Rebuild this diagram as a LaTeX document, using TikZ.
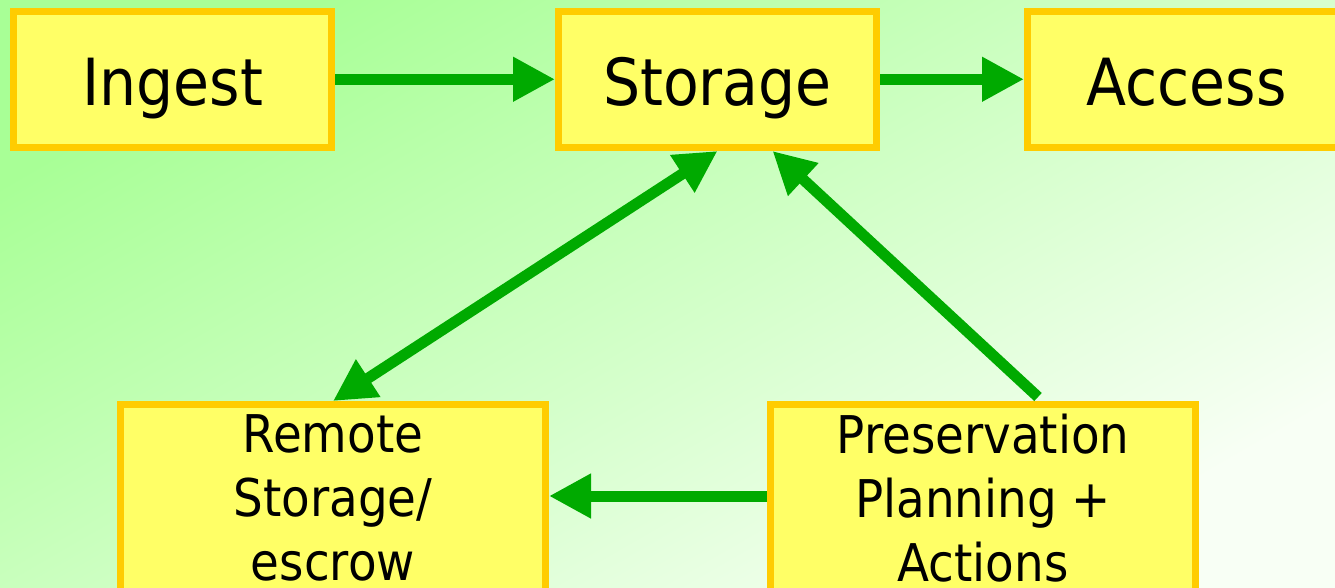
\documentclass[tikz,border=0pt]{standalone}
\usepackage{fontspec}
\setmainfont{DejaVu Sans}[FakeStretch=0.9]
\usetikzlibrary{positioning,arrows.meta}
\definecolor{boxfill}{RGB}{255,255,102}
\definecolor{boxline}{RGB}{255,204,0}
\definecolor{flowgreen}{RGB}{0,170,0}
\definecolor{bgdark}{RGB}{168,255,150}
\definecolor{bglight}{RGB}{248,255,245}
\tikzset{
  oais box/.style={rectangle, draw=boxline, fill=boxfill, line width=7pt, align=center},
  oais top/.style={oais box, minimum width=318pt, minimum height=136.5pt, font=\fontsize{65}{78}\selectfont, text height=52pt, text depth=0pt},
  oais low/.style={oais box, minimum width=425pt, minimum height=187pt, font=\fontsize{52}{64}\selectfont},
  oais flow/.style={draw=flowgreen, line width=11pt, -{Triangle[length=42pt,width=42pt]}}
}

\begin{document}
\begin{tikzpicture}[x=1pt, y=-1pt]
    % Background
    \clip (0,0) rectangle (1335,587);
    \shade [top color=bgdark, bottom color=bglight, shading angle=30] (0,0) rectangle (1335,587);

    % Nodes for the top row
    \node [oais top] (Ingest) at (172.5,79.25) {Ingest};
    \node [oais top, right=220pt of Ingest] (Storage) {Storage};
    \node [oais top, right=144pt of Storage] (Access) {Access};

    % Nodes for the bottom row
    \node [oais low] (Remote) at (333,498) {Remote\\Storage/\\escrow};
    \node [oais low, right=218pt of Remote] (Pres) {Preservation\\Planning +\\Actions};

    % Flows
    \draw [oais flow] (Ingest) -- (Storage);
    \draw [oais flow] (Storage) -- (Access);
    \draw [oais flow, {Triangle[length=42pt,width=42pt]}-{Triangle[length=42pt,width=42pt]}] (Remote.north) -- (Storage.south);
    \draw [oais flow] ([xshift=55pt,yshift=4pt]Pres.north) -- ([xshift=55pt]Storage.south);
    \draw [oais flow] ([yshift=2pt]Pres.west) -- ([yshift=2pt]Remote.east);
\end{tikzpicture}
\end{document}
